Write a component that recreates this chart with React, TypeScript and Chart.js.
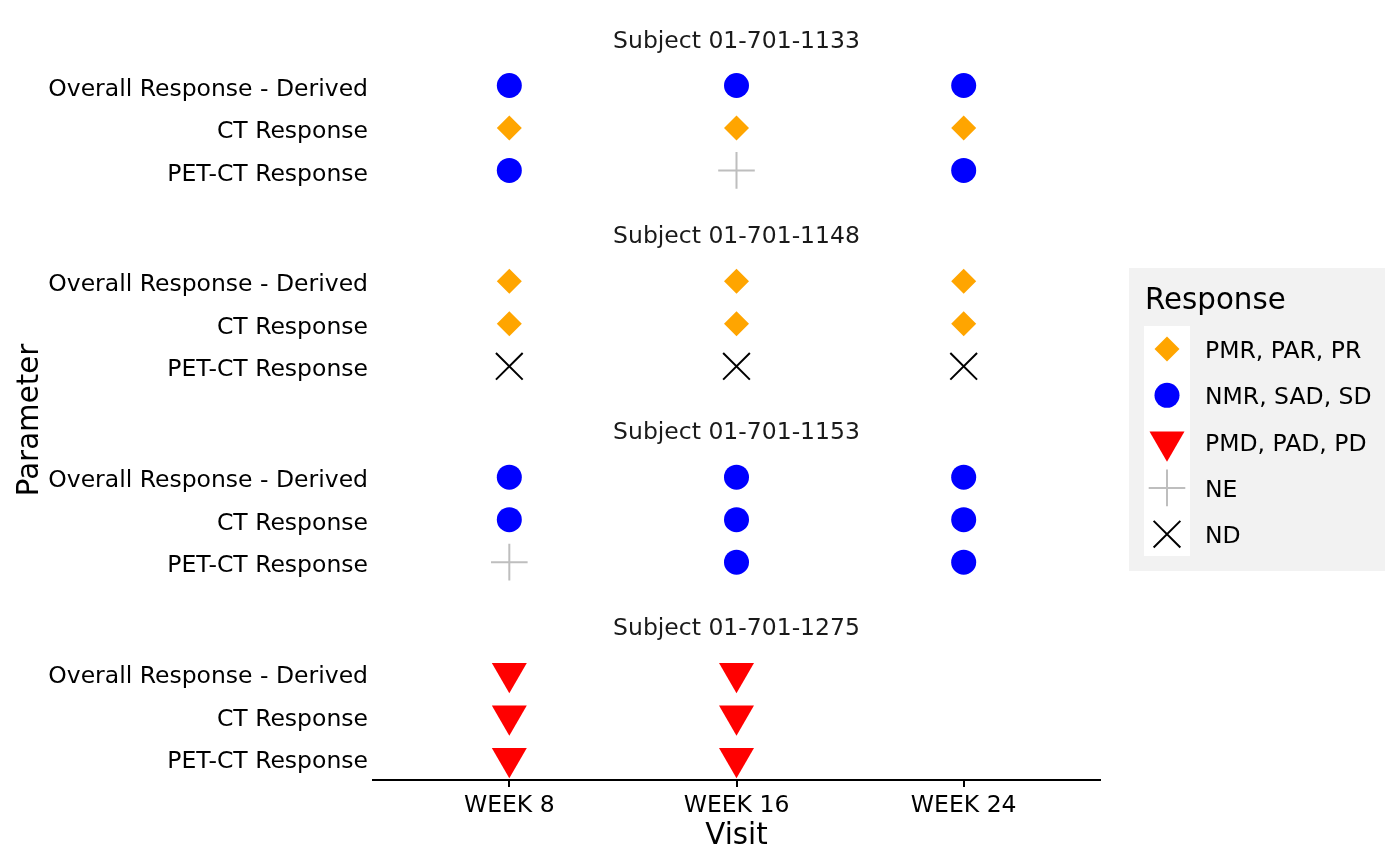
import React, { useEffect, useRef } from 'react';
import { Chart, registerables } from 'chart.js';
import { drawPoint } from 'chart.js/helpers';

Chart.register(...registerables);

// ---------- data ----------
const subjects = ['Subject 01-701-1133', 'Subject 01-701-1148', 'Subject 01-701-1153', 'Subject 01-701-1275'];
const parameters = ['Overall Response - Derived', 'CT Response', 'PET-CT Response'];
const visits = ['WEEK 8', 'WEEK 16', 'WEEK 24'];
const responseCodes = ['PR', 'SD', 'PD', 'NE', 'ND'];
const responseLabels = ['PMR, PAR, PR', 'NMR, SAD, SD', 'PMD, PAD, PD', 'NE', 'ND'];

// rows: parameters, columns: visits (null = no assessment)
const subj1133 = [
  ['SD', 'SD', 'SD'],
  ['PR', 'PR', 'PR'],
  ['SD', 'NE', 'SD'],
];
const subj1148 = [
  ['PR', 'PR', 'PR'],
  ['PR', 'PR', 'PR'],
  ['ND', 'ND', 'ND'],
];
const subj1153 = [
  ['SD', 'SD', 'SD'],
  ['SD', 'SD', 'SD'],
  ['NE', 'SD', 'SD'],
];
const subj1275 = [
  ['PD', 'PD', null],
  ['PD', 'PD', null],
  ['PD', 'PD', null],
];
const subjectResponses = [subj1133, subj1148, subj1153, subj1275];

// ---------- styles ----------
const FONT = '"DejaVu Sans", "Liberation Sans", sans-serif';
const PANEL_STEP = 196 / 42.5; // vertical distance between facet panels, in row units
const markerStyles: Record<string, any> = {
  PR: { pointStyle: 'rectRot', radius: 12.5, backgroundColor: '#FFA500', borderColor: '#FFA500', borderWidth: 0, rotation: 0 },
  SD: { pointStyle: 'circle', radius: 12.5, backgroundColor: '#0000FF', borderColor: '#0000FF', borderWidth: 0, rotation: 0 },
  PD: { pointStyle: 'triangle', radius: 20.2, backgroundColor: '#FF0000', borderColor: '#FF0000', borderWidth: 0, rotation: 180 },
  NE: { pointStyle: 'cross', radius: 18.3, backgroundColor: '#BEBEBE', borderColor: '#BEBEBE', borderWidth: 2, rotation: 0 },
  ND: { pointStyle: 'crossRot', radius: 18.9, backgroundColor: '#000000', borderColor: '#000000', borderWidth: 2, rotation: 0 },
};

const rowPos = (s: number, p: number) => s * PANEL_STEP + p;

function buildDatasets() {
  return responseCodes.map((code, ci) => {
    const data: { x: number; y: number }[] = [];
    subjectResponses.forEach((rows, s) => {
      rows.forEach((vals, p) => {
        vals.forEach((v, vi) => {
          if (v === code) data.push({ x: vi, y: rowPos(s, p) });
        });
      });
    });
    const st = markerStyles[code];
    return {
      label: responseLabels[ci],
      data,
      pointStyle: st.pointStyle,
      pointRadius: st.radius,
      pointHoverRadius: st.radius,
      pointRotation: st.rotation,
      pointBackgroundColor: st.backgroundColor,
      pointBorderColor: st.borderColor,
      pointBorderWidth: st.borderWidth,
      showLine: false,
    };
  });
}

const tickPositions: number[] = [];
const tickLabels: string[] = [];
subjects.forEach((_, s) => parameters.forEach((p, pi) => { tickPositions.push(rowPos(s, pi)); tickLabels.push(p); }));

const decorPlugin = {
  id: 'decor',
  afterDraw(chart: any) {
    const ctx = chart.ctx as CanvasRenderingContext2D;
    const yS = chart.scales.y;
    const area = chart.chartArea;
    const cx = (area.left + area.right) / 2;
    ctx.save();
    // strip titles
    ctx.fillStyle = '#1A1A1A';
    ctx.font = `23.5px ${FONT}`;
    ctx.textAlign = 'center';
    ctx.textBaseline = 'middle';
    subjects.forEach((name, s) => {
      const y = yS.getPixelForValue(rowPos(s, 0)) - 44;
      ctx.fillText(name, cx, y);
    });
    // axis titles
    ctx.fillStyle = '#000000';
    ctx.font = `29.3px ${FONT}`;
    ctx.fillText('Visit', cx, 836);
    ctx.save();
    ctx.translate(30, (area.top + area.bottom) / 2);
    ctx.rotate(-Math.PI / 2);
    ctx.fillText('Parameter', 0, 0);
    ctx.restore();
    // legend
    ctx.fillStyle = '#F2F2F2';
    ctx.fillRect(1129, 268, 256, 303);
    ctx.fillStyle = '#000000';
    ctx.textAlign = 'left';
    ctx.font = `29.3px ${FONT}`;
    ctx.fillText('Response', 1145, 301);
    ctx.fillStyle = '#FFFFFF';
    ctx.fillRect(1144, 326, 46, 230);
    ctx.font = `23.5px ${FONT}`;
    responseCodes.forEach((code, i) => {
      const y = 349 + i * 46.3;
      const st = markerStyles[code];
      ctx.save();
      ctx.fillStyle = st.backgroundColor;
      ctx.strokeStyle = st.borderColor;
      ctx.lineWidth = st.borderWidth;
      drawPoint(ctx, { pointStyle: st.pointStyle, radius: st.radius, rotation: st.rotation, borderWidth: st.borderWidth } as any, 1167, y);
      ctx.restore();
      ctx.fillStyle = '#000000';
      ctx.fillText(responseLabels[i], 1205, y + 3);
    });
    ctx.restore();
  },
};

export default function App() {
  const ref = useRef<HTMLCanvasElement>(null);
  useEffect(() => {
    document.body.style.margin = '0';
    const canvas = ref.current!;
    const chart = new Chart(canvas, {
      type: 'scatter',
      data: { datasets: buildDatasets() as any },
      options: {
        animation: false,
        responsive: false,
        devicePixelRatio: 1,
        layout: { padding: { top: 60, right: 300, left: 0, bottom: 0 } },
        plugins: { legend: { display: false }, tooltip: { enabled: false } },
        events: [],
        scales: {
          x: {
            type: 'linear',
            position: 'bottom',
            min: -0.6,
            max: 2.6,
            afterBuildTicks: (scale: any) => { scale.ticks = visits.map((_, i) => ({ value: i })); },
            afterFit: (scale: any) => { scale.height = 85; },
            ticks: {
              autoSkip: false,
              padding: 5,
              color: '#000000',
              font: { family: FONT, size: 23.5 },
              callback: (v: any) => visits[Math.round(Number(v))] ?? '',
            },
            grid: { display: true, drawOnChartArea: false, drawTicks: true, tickLength: 7, color: '#000000', lineWidth: 2 },
            border: { display: true, color: '#000000', width: 2 },
          },
          y: {
            type: 'linear',
            position: 'left',
            reverse: true,
            min: -0.6,
            max: (780 - 85) / 42.5,
            afterBuildTicks: (scale: any) => { scale.ticks = tickPositions.map((v) => ({ value: v })); },
            afterFit: (scale: any) => { scale.width = 373; },
            ticks: {
              autoSkip: false,
              padding: 5,
              labelOffset: 4,
              color: '#000000',
              font: { family: FONT, size: 23.5 },
              callback: (v: any) => {
                const n = Number(v);
                let best = 0;
                tickPositions.forEach((p, i) => { if (Math.abs(p - n) < Math.abs(tickPositions[best] - n)) best = i; });
                return tickLabels[best];
              },
            },
            grid: { display: false, drawTicks: false },
            border: { display: false },
          },
        },
      },
      plugins: [decorPlugin],
    });
    return () => chart.destroy();
  }, []);
  return (
    <div style={{ width: 1400, height: 865, background: '#FFFFFF' }}>
      <canvas ref={ref} width={1400} height={865} style={{ display: 'block', width: 1400, height: 865 }} />
    </div>
  );
}
